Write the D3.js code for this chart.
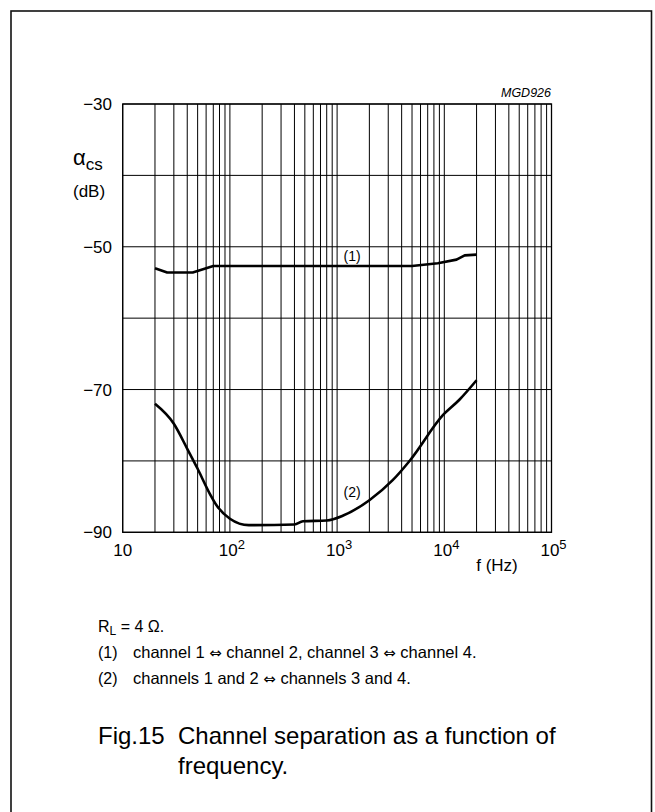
<!DOCTYPE html>
<html><head><meta charset="utf-8">
<script src="https://cdn.jsdelivr.net/npm/d3@7"></script>
<style>
html,body{margin:0;padding:0;background:#fff;}
svg{display:block;font-family:"Liberation Sans",Arial,Helvetica,sans-serif;}
</style></head>
<body>
<svg id="c" width="655" height="812"></svg>
<script>
// ---- data ----
const freq1 = [20, 26, 45, 70, 5000, 8700, 13000, 15500, 20000];
const sep1  = [-53.0, -53.6, -53.6, -52.7, -52.7, -52.3, -51.8, -51.2, -51.1];
const freq2 = [20, 30, 40, 50, 65, 75, 100, 150, 400, 480, 800, 1140, 2000, 3300, 4800, 9700, 13900, 20000];
const sep2  = [-72.0, -74.8, -78.3, -81.1, -84.6, -86.2, -88.1, -89.0, -88.9, -88.45, -88.35, -87.65, -85.5, -82.7, -79.9, -73.6, -71.4, -68.7];
const yTicks = [-30, -50, -70, -90];
const yGrid = [-30, -40, -50, -60, -70, -80, -90];
const xDecades = [1, 2, 3, 4, 5]; // exponents of 10
const curveLabels = [{t:"(1)", f:1380, v:-52.0}, {t:"(2)", f:1380, v:-85.1}];
const notes = ["(1)", "channel 1 ", " channel 2, channel 3 ", " channel 4.", "(2)", "channels 1 and 2 ", " channels 3 and 4."];

const svg = d3.select("#c");
const L = 122.7, R = 551.5, T = 104, B = 532.3;
const x = d3.scaleLog().domain([10, 1e5]).range([L, R]);
const y = d3.scaleLinear().domain([-90, -30]).range([B, T]);

// frame
svg.append("rect").attr("x", 11).attr("y", 11).attr("width", 640.5).attr("height", 820)
  .attr("fill", "none").attr("stroke", "#111").attr("stroke-width", 1.6);

// grid
const vlines = [];
for (let e = 1; e < 5; e++) for (let m = 1; m <= 9; m++) vlines.push(m * Math.pow(10, e));
vlines.push(1e5);
const g = svg.append("g");
g.selectAll("line.v").data(vlines).join("line").attr("class", "v")
  .attr("x1", d => x(d)).attr("x2", d => x(d)).attr("y1", T).attr("y2", B)
  .attr("stroke", "#000").attr("stroke-width", 1);
g.selectAll("line.h").data(yGrid).join("line").attr("class", "h")
  .attr("x1", L).attr("x2", R).attr("y1", d => y(d)).attr("y2", d => y(d))
  .attr("stroke", "#000").attr("stroke-width", 1);
g.append("rect").attr("x", L).attr("y", T).attr("width", R - L).attr("height", B - T)
  .attr("fill", "none").attr("stroke", "#000").attr("stroke-width", 1.3);

// curves
const line1 = d3.line().x((d, i) => x(freq1[i])).y(d => y(d));
const line2 = d3.line().x((d, i) => x(freq2[i])).y(d => y(d)).curve(d3.curveMonotoneX);
svg.append("path").attr("d", line1(sep1)).attr("fill", "none").attr("stroke", "#000").attr("stroke-width", 2.6).attr("stroke-linejoin", "round");
svg.append("path").attr("d", line2(sep2)).attr("fill", "none").attr("stroke", "#000").attr("stroke-width", 2.6).attr("stroke-linejoin", "round");

svg.selectAll("text.cl").data(curveLabels).join("text").attr("class", "cl")
  .attr("x", d => x(d.f)).attr("y", d => y(d.v)).attr("text-anchor", "middle")
  .attr("font-size", 14).text(d => d.t);

// y tick labels
svg.selectAll("text.yt").data(yTicks).join("text").attr("class", "yt")
  .attr("x", 112).attr("y", d => y(d) + 6).attr("text-anchor", "end")
  .attr("font-size", 17).text(d => "\u2212" + Math.abs(d));

// x tick labels
const xt = svg.selectAll("text.xt").data(xDecades).join("text").attr("class", "xt")
  .attr("x", d => x(Math.pow(10, d)) + (d === 1 ? 0 : 2)).attr("y", 556).attr("text-anchor", "middle").attr("font-size", 17);
xt.each(function(d) {
  const t = d3.select(this);
  if (d === 1) { t.text("10"); return; }
  t.append("tspan").text("10");
  t.append("tspan").attr("dy", -7).attr("font-size", 13).text(d);
});

// axis titles
const at = svg.append("text").attr("x", 73).attr("y", 165).attr("font-size", 22);
at.append("tspan").text("\u03B1");
at.append("tspan").attr("dy", 5).attr("font-size", 17).text("cs");
svg.append("text").attr("x", 73).attr("y", 197).attr("font-size", 17).text("(dB)");
svg.append("text").attr("x", 497).attr("y", 571).attr("text-anchor", "middle").attr("font-size", 17).text("f (Hz)");
svg.append("text").attr("x", 551).attr("y", 97).attr("text-anchor", "end").attr("font-size", 12.5).attr("font-style", "italic").text("MGD926");

// notes
const arrow = "\u21D4";
const rl = svg.append("text").attr("x", 98).attr("y", 632).attr("font-size", 16);
rl.append("tspan").text("R");
rl.append("tspan").attr("dy", 3).attr("font-size", 12).text("L");
rl.append("tspan").attr("dy", -3).text(" = 4 \u03A9.");
function noteLine(yy, label, parts) {
  svg.append("text").attr("x", 98).attr("y", yy).attr("font-size", 16).text(label);
  const t = svg.append("text").attr("x", 133).attr("y", yy).attr("font-size", 16.5);
  parts.forEach((p, i) => {
    if (i > 0) t.append("tspan").attr("font-family", "DejaVu Sans").attr("font-size", 15).text(arrow);
    t.append("tspan").text(p);
  });
}
noteLine(658, notes[0], notes.slice(1, 4));
noteLine(684, notes[4], notes.slice(5, 7));
svg.append("text").attr("x", 98).attr("y", 744).attr("font-size", 24).text("Fig.15");
svg.append("text").attr("x", 178).attr("y", 744).attr("font-size", 24).text("Channel separation as a function of");
svg.append("text").attr("x", 178).attr("y", 774).attr("font-size", 24).text("frequency.");
</script>
</body></html>
